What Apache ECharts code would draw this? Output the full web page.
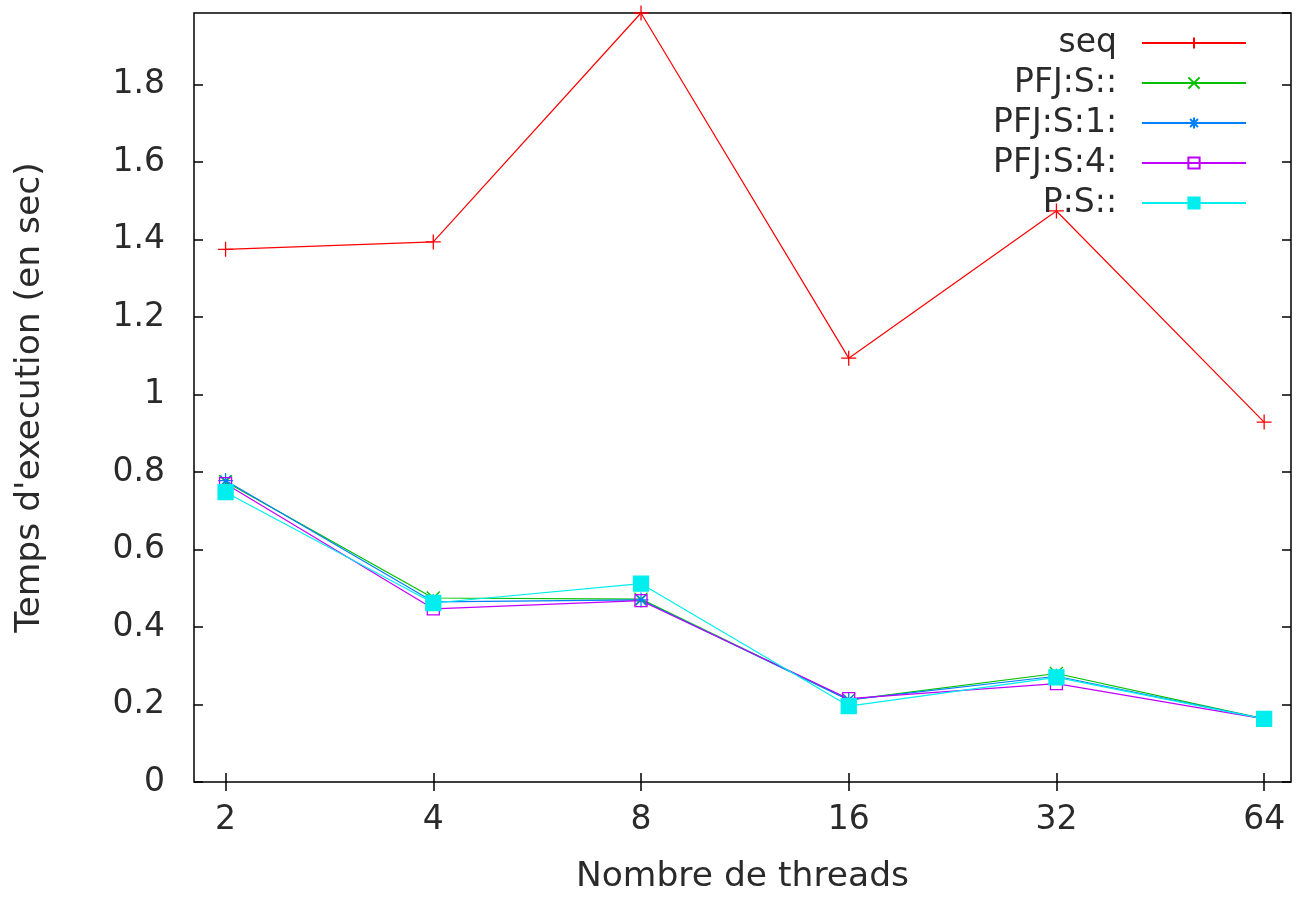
<!DOCTYPE html>
<html>
<head>
<meta charset="utf-8">
<script src="https://cdn.jsdelivr.net/npm/echarts@6/dist/echarts.min.js"></script>
<style>html,body{margin:0;padding:0;background:#fff;}#c{width:1296px;height:901px;}</style>
</head>
<body>
<div id="c"></div>
<script>
const threads = [2, 4, 8, 16, 32, 64];
const seqValues = [1.375, 1.394, 1.985, 1.094, 1.474, 0.929];
const pfjS = [0.775, 0.475, 0.472, 0.212, 0.280, 0.163];
const pfjS1 = [0.778, 0.465, 0.470, 0.212, 0.273, 0.163];
const pfjS4 = [0.770, 0.447, 0.468, 0.215, 0.254, 0.163];
const pS = [0.748, 0.462, 0.512, 0.196, 0.270, 0.163];
const seriesNames = ['seq', 'PFJ:S::', 'PFJ:S:1:', 'PFJ:S:4:', 'P:S::'];
const seriesColors = ['#ff0000', '#00c000', '#0080ff', '#c000ff', '#00eeee'];

const FONT = 'DejaVu Sans';
const FS = 33;
const TXT = '#2a2a2a';
const pair = arr => threads.map((t, i) => [t, arr[i]]);

const symPlus = 'path://M0,5L10,5M5,0L5,10';
const symX = 'path://M0,0L10,10M0,10L10,0';
const symStar = 'path://M0,5L10,5M5,0L5,10M1.5,1.5L8.5,8.5M1.5,8.5L8.5,1.5';
const symBox = 'path://M0,0L10,0L10,10L0,10Z';

function mk(name, data, color, symbol, size, fill) {
  return {
    name: name, type: 'line', data: pair(data), symbol: symbol, symbolSize: size,
    showAllSymbol: true, clip: false,
    lineStyle: {color: color, width: 1.2},
    itemStyle: {color: fill, borderColor: color, borderWidth: 1.3},
    emphasis: {disabled: true}, animation: false
  };
}

const tickStyle = {color: '#000', width: 1.5};
const chart = echarts.init(document.getElementById('c'), null, {renderer: 'canvas'});
chart.setOption({
  animation: false,
  grid: {left: 194, right: 5, top: 13, bottom: 119, show: true, borderColor: '#000', borderWidth: 1.5, backgroundColor: 'transparent'},
  legend: {
    orient: 'vertical', right: 44, top: 18, align: 'right',
    itemWidth: 104, itemHeight: 14, itemGap: 0,
    data: seriesNames,
    textStyle: {fontFamily: FONT, fontSize: FS, color: TXT, lineHeight: 40, padding: [0, 20, 0, 0]}
  },
  xAxis: [{
    type: 'log', logBase: 2, min: 1.8, max: 70,
    name: 'Nombre de threads', nameLocation: 'middle', nameGap: 78,
    nameTextStyle: {fontFamily: FONT, fontSize: 34.5, color: TXT},
    axisLine: {show: false},
    axisTick: {show: true, inside: true, length: 9, lineStyle: tickStyle, customValues: threads},
    axisLabel: {fontFamily: FONT, fontSize: FS, color: TXT, margin: 22, customValues: threads,
      formatter: v => String(Math.round(v))},
    splitLine: {show: false}
  }, {
    type: 'log', logBase: 2, min: 1.8, max: 70, position: 'top',
    axisLine: {show: false},
    axisTick: {show: true, inside: true, length: 9, lineStyle: tickStyle, customValues: threads},
    axisLabel: {show: false}, splitLine: {show: false}
  }],
  yAxis: [{
    type: 'value', min: 0, max: 1.985, interval: 0.2,
    name: "Temps d'execution (en sec)", nameLocation: 'middle', nameGap: 146,
    nameTextStyle: {fontFamily: FONT, fontSize: 34.5, color: TXT},
    axisLine: {show: false},
    axisTick: {show: true, inside: true, length: 9, lineStyle: tickStyle},
    axisLabel: {fontFamily: FONT, fontSize: FS, color: TXT, margin: 29, showMaxLabel: false,
      formatter: v => String(Math.round(v * 10) / 10)},
    splitLine: {show: false}
  }, {
    type: 'value', min: 0, max: 1.985, interval: 0.2, position: 'right',
    axisLine: {show: false},
    axisTick: {show: true, inside: true, length: 9, lineStyle: tickStyle},
    axisLabel: {show: false}, splitLine: {show: false}
  }],
  series: [
    mk(seriesNames[0], seqValues, seriesColors[0], symPlus, 15, seriesColors[0]),
    mk(seriesNames[1], pfjS, seriesColors[1], symX, 13, seriesColors[1]),
    mk(seriesNames[2], pfjS1, seriesColors[2], symStar, 15, seriesColors[2]),
    mk(seriesNames[3], pfjS4, seriesColors[3], symBox, 12, 'rgba(0,0,0,0)'),
    mk(seriesNames[4], pS, seriesColors[4], 'rect', 15, seriesColors[4])
  ]
});
</script>
</body>
</html>
